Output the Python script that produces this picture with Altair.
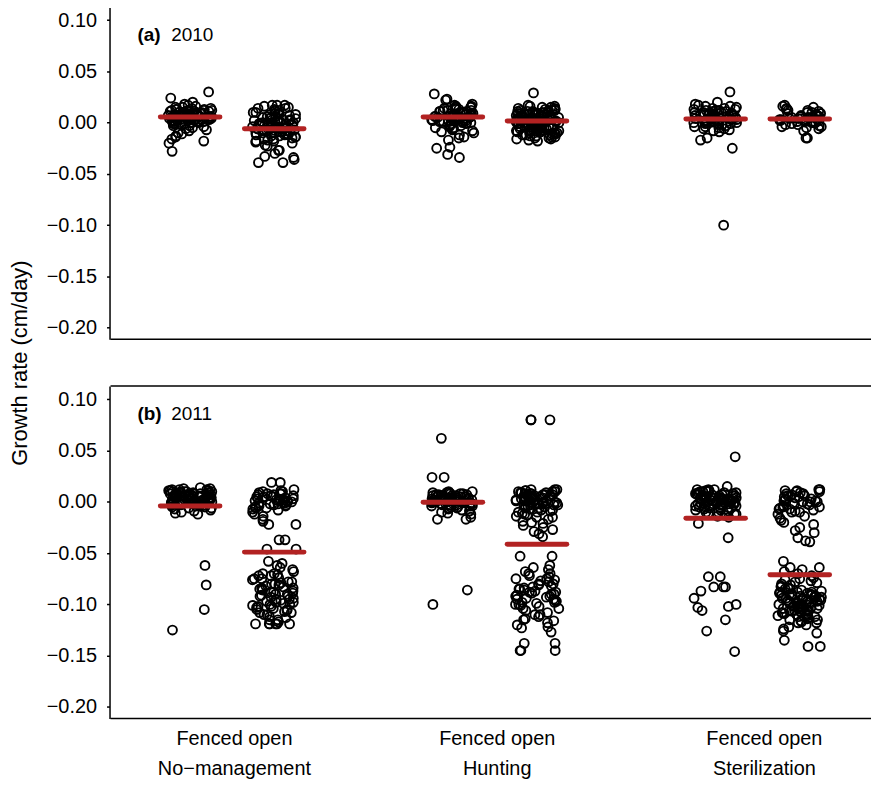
import altair as alt
import pandas as pd

# ---------------- data (growth rate, thousandths of cm/day) ----------------
years = ["2010", "2011"]
panel_tags = ["(a)", "(b)"]
managements = ["No−management", "Hunting", "Sterilization"]
treat_label = "Fenced open"
group_pos = [1.0, 1.96, 4.0, 4.96, 7.0, 7.96]   # Fenced/open for each management
label_pos = [1.5, 4.5, 7.55]

pts_2010 = [
    # No-management fenced
    [30, 24, 20, 18, 17, 16, 15, 15, 14, 14, 13, 13, 12, 12, 12, 11, 11, 10, 10, 10, 9, 9, 9, 8, 8, 8,
     7, 7, 7, 6, 6, 6, 5, 5, 5, 4, 4, 4, 3, 3, 3, 2, 2, 1, 1, 0, 0, -1, -1, -2, -3, -4, -5, -6, -7, -8,
     -10, -11, -13, -14, -16, -18, -20, -28,
     12, 11, 10, 9, 8, 7, 6, 5, 4, 3, 2, 1, 0, 13, 11, 9, 7, 5, 3, 1, -1, -3, 10, 8, 6, 4, 2, 0],
    # No-management open
    [17, 17, 17, 16, 15, 14, 13, 12, 11, 10, 9, 8, 8, 7, 6, 5, 5, 4, 3, 3, 2, 2, 1, 0, 0, -1, -1, -2, -3,
     -3, -4, -4, -5, -5, -6, -6, -7, -7, -8, -8, -9, -9, -10, -10, -11, -12, -12, -13, -14, -15, -16,
     -17, -18, -19, -20, -22, -23, -27, -27, -30, -33, -34, -36, -39, -39,
     10, 8, 6, 4, 2, 0, -2, -4, -6, -8, -10, -12, -14, -16, -18, -5, -7, -9, -11, -13, 12, 14, 3, 1, -1, -3],
    # Hunting fenced
    [28, 23, 22, 18, 17, 16, 15, 14, 13, 12, 12, 11, 11, 10, 10, 9, 9, 8, 8, 7, 7, 6, 6, 6, 5, 5, 5, 4, 4,
     3, 3, 2, 2, 1, 1, 0, 0, -1, -2, -3, -4, -5, -6, -7, -8, -9, -10, -12, -14, -15, -17, -24, -25, -31, -34,
     15, 13, 11, 9, 7, 5, 3, 1, -1, -3, -5, 12, 10, 8, 6, 4, 2, 0, 14, 16],
    # Hunting open
    [29, 17, 16, 15, 14, 13, 12, 12, 11, 11, 10, 10, 9, 9, 8, 8, 8, 7, 7, 7, 6, 6, 6, 5, 5, 5, 4, 4, 4, 3,
     3, 3, 2, 2, 2, 1, 1, 1, 0, 0, 0, -1, -1, -1, -2, -2, -2, -3, -3, -3, -4, -4, -5, -5, -6, -6, -7, -7,
     -8, -8, -9, -10, -10, -11, -12, -13, -14, -15, -16, -16, -17, -18,
     15, 13, 11, 9, 7, 5, 3, 1, -1, -3, -5, -7, -9, -11, -13, -15, 14, 12, 10, 8, 6, 4, 2, 0, -2, -4, -6,
     -8, -10, -12, -14, 16, 12, 8, 4, 0, -4, -8, -12],
    # Sterilization fenced
    [30, 20, 18, 17, 16, 15, 14, 13, 12, 12, 11, 10, 10, 9, 9, 8, 8, 7, 7, 6, 6, 5, 5, 4, 4, 3, 3, 2, 2,
     1, 1, 0, 0, -1, -2, -3, -4, -5, -6, -7, -8, -9, -15, -17, -25, -100,
     14, 12, 10, 8, 6, 4, 2, 0, -2, -4, -6, 16, 13, 11, 9, 7, 5, 3, 1, -1],
    # Sterilization open
    [17, 16, 15, 14, 13, 12, 11, 10, 9, 8, 7, 6, 6, 5, 5, 4, 4, 3, 3, 2, 2, 1, 1, 0, 0, -1, -2, -3, -4,
     -5, -6, -8, -15, -15, 12, 10, 8, 6, 4, 2, 0, -2, -4, 9, 7, 5, 3, 1],
]
pts_2011 = [
    # No-management fenced
    [14, 13, 12, 12, 11, 11, 10, 10, 10, 9, 9, 9, 8, 8, 8, 7, 7, 7, 6, 6, 6, 5, 5, 5, 4, 4, 4, 3, 3, 3,
     2, 2, 2, 1, 1, 1, 0, 0, 0, -1, -1, -1, -2, -2, -3, -3, -4, -4, -5, -5, -6, -7, -8, -9, -10, -11,
     -12, -62, -81, -105, -125,
     12, 10, 8, 6, 4, 2, 0, -2, -4, -6, 11, 9, 7, 5, 3, 1, -1, -3, 13, 8, 3, -2, 10, 6, 2],
    # No-management open
    [19, 19, 12, 11, 10, 9, 8, 8, 7, 6, 5, 5, 4, 3, 2, 2, 1, 0, 0, -1, -2, -3, -4, -5, -6, -7, -8, -10,
     -12, -14, -17, -19, -22, -22, -37, -37, -46, -46,
     10, 6, 2, -2, -6, 8, 4, 0, -4, 5, 1, -3, 3, -1, 7,
     -58, -60, -62, -64, -66, -68, -70, -71, -72, -74, -75, -76, -78, -79, -80, -81, -82, -83, -84, -85,
     -86, -87, -88, -89, -90, -91, -92, -93, -94, -95, -96, -97, -98, -99, -100, -101, -102, -103, -104,
     -105, -106, -107, -108, -110, -112, -113, -115, -117, -119, -119, -119, -119, -119, -119,
     -70, -75, -80, -85, -90, -95, -100, -105, -110, -115, -72, -78, -84, -88, -92, -98, -102, -108],
    # Hunting fenced
    [62, 24, 24, 10, 9, 9, 8, 8, 7, 7, 6, 6, 6, 5, 5, 5, 4, 4, 4, 3, 3, 3, 2, 2, 2, 1, 1, 1, 0, 0, 0, -1,
     -1, -1, -2, -2, -3, -3, -4, -4, -5, -6, -7, -8, -9, -10, -11, -12, -15, -17, -17, -86, -100,
     8, 6, 4, 2, 0, -2, -4, -6, 9, 7, 5, 3, 1, -1, -3, 10, 6, 2, -2, -5],
    # Hunting open
    [80, 80, 80, 12, 12, 11, 10, 10, 9, 9, 8, 8, 7, 7, 6, 6, 5, 5, 4, 4, 3, 3, 2, 2, 1, 1, 0, 0, -1, -1,
     -2, -2, -3, -3, -4, -5, -6, -7, -8, -9, -10, -11, -12, -13, -14, -15, -17, -19, -21, -23, -25, -27,
     -29, -31, -34,
     10, 8, 6, 4, 2, 0, -2, -4, -6, -8, 11, 7, 3, -1, -5, 9, 5, 1, -3, 12, -10, -15, -20,
     -53, -53, -62, -64, -66, -68, -70, -72, -73, -75, -76, -77, -78, -80, -81, -82, -83, -84, -85, -86,
     -87, -88, -89, -90, -91, -92, -93, -94, -95, -96, -97, -98, -99, -100, -101, -102, -104, -106, -108,
     -110, -112, -114, -116, -118, -120, -122, -123, -127, -138, -138, -145, -145, -145,
     -85, -90, -95, -100, -80, -88, -92, -98, -104, -110, -75, -70, -115],
    # Sterilization fenced
    [44, 15, 12, 12, 11, 10, 10, 9, 9, 8, 8, 7, 7, 6, 6, 5, 5, 5, 4, 4, 4, 3, 3, 3, 2, 2, 2, 1, 1, 1, 0,
     0, 0, -1, -1, -1, -2, -2, -3, -3, -4, -4, -5, -5, -6, -7, -8, -9, -10, -11, -12, -13, -14, -15, -21,
     -35, -73, -73, -83, -83, -83, -87, -94, -100, -102, -103, -106, -115, -126, -146,
     10, 8, 6, 4, 2, 0, -2, -4, -6, -8, -10, 9, 7, 5, 3, 1, -1, -3, -5, 12, 11, 0, -12],
    # Sterilization open
    [12, 12, 11, 10, 9, 8, 7, 6, 5, 4, 3, 2, 1, 0, 0, -1, -2, -3, -4, -5, -6, -7, -8, -9, -10, -12, -14,
     -16, -18, -20, -22, -25, -28, -30, -35, -38, -39,
     10, 5, 0, -5, -10, 8, 3, -2, -7, 11, 6, 1,
     -58, -64, -64, -66, -68, -70, -72, -74, -75, -76, -77, -78, -79, -80, -81, -82, -83, -84, -85, -86,
     -87, -88, -88, -89, -90, -90, -91, -92, -92, -93, -94, -94, -95, -96, -96, -97, -98, -98, -99, -100,
     -100, -101, -102, -102, -103, -104, -104, -105, -106, -106, -107, -108, -108, -109, -110, -111, -112,
     -113, -114, -115, -116, -117, -118, -120, -122, -124, -126, -128, -135, -141, -141,
     -90, -92, -94, -96, -98, -100, -102, -104, -106, -108, -110, -95, -97, -99, -101, -103, -105, -85,
     -88, -112, -115, -118, -93, -107, -91, -89, -109, -111],
]
means_2010 = [0.0055, -0.006, 0.0055, 0.0017, 0.0035, 0.0035]
means_2011 = [-0.004, -0.049, -0.0003, -0.0414, -0.016, -0.071]

# ---------------- build table ----------------
rows = []
for yr, tag, pts, means in [(years[0], panel_tags[0], pts_2010, means_2010),
                            (years[1], panel_tags[1], pts_2011, means_2011)]:
    for g, (vals, m) in enumerate(zip(pts, means)):
        for i, v in enumerate(vals):
            rows.append(dict(year=yr, kind="pt", grp=g, idx=i, pos=group_pos[g], y=v / 1000.0))
        rows.append(dict(year=yr, kind="mean", grp=g, idx=0, pos=group_pos[g], y=m))
    rows.append(dict(year=yr, kind="tag", grp=-1, idx=0, pos=0.0, y=0.0, txt=tag))
    rows.append(dict(year=yr, kind="yr", grp=-1, idx=0, pos=0.0, y=0.0, txt=yr))
df = pd.DataFrame(rows)
df["txt"] = df["txt"].fillna("")

W, H = 764, 334
XDOM = [0.091, 8.773]
YDOM = [-0.2113, 0.113]
FONT = "Liberation Sans, Arial, Helvetica, sans-serif"

lab_expr = (
    f"datum.value < 3 ? ['{treat_label}', '{managements[0]}'] : "
    f"datum.value < 6 ? ['{treat_label}', '{managements[1]}'] : "
    f"['{treat_label}', '{managements[2]}']"
)

xscale = alt.Scale(domain=XDOM, nice=False, zero=False)
yscale = alt.Scale(domain=YDOM, nice=False, zero=False)

xaxis = alt.Axis(values=label_pos, labelExpr=lab_expr, title=None, domain=False, ticks=False,
                 grid=False, labelFont=FONT, labelFontSize=20, labelLineHeight=30,
                 labelPadding=9, labelColor="black", labelAngle=0)
yaxis = alt.Axis(values=[-0.2, -0.15, -0.1, -0.05, 0.0, 0.05, 0.1], format=".2f", title=None,
                 domain=True, domainColor="black", domainWidth=1.5, ticks=True, tickSize=3,
                 tickColor="black", tickWidth=1.5, grid=False, labelFont=FONT, labelFontSize=20,
                 labelPadding=10, labelColor="black")

points = alt.Chart().transform_filter(alt.datum.kind == "pt").transform_window(
    rn="row_number()", groupby=["year", "grp"]
).transform_calculate(
    s="sin(datum.rn * 12.9898 + datum.grp * 78.233 + (datum.year == '2011' ? 37.719 : 0)) * 43758.5453"
).transform_calculate(
    xj="datum.pos + (datum.s - floor(datum.s) - 0.5) * 0.5"
).mark_point(shape="circle", filled=False, color="black", size=80, strokeWidth=1.9, opacity=1).encode(
    x=alt.X("xj:Q", scale=xscale, axis=xaxis),
    y=alt.Y("y:Q", scale=yscale, axis=yaxis),
)

means = alt.Chart().transform_filter(alt.datum.kind == "mean").transform_calculate(
    x1="datum.pos - 0.34", x2="datum.pos + 0.34"
).mark_rule(color="#B22222", strokeWidth=5, strokeCap="round").encode(
    x=alt.X("x1:Q", scale=xscale),
    x2="x2:Q",
    y=alt.Y("y:Q", scale=yscale),
)

# frame: top and bottom lines (left line is the y axis domain)
frame_top = alt.Chart().transform_filter(alt.datum.kind == "tag").mark_rule(
    color="black", strokeWidth=1.5
).encode(x=alt.value(0), x2=alt.value(W), y=alt.value(0))
frame_bot = alt.Chart().transform_filter(alt.datum.kind == "tag").mark_rule(
    color="black", strokeWidth=1.5
).encode(x=alt.value(0), x2=alt.value(W), y=alt.value(H))

tags = alt.Chart().transform_filter(alt.datum.kind == "tag").mark_text(
    align="left", baseline="middle", font=FONT, fontSize=19, fontWeight="bold", color="black"
).encode(x=alt.value(27), y=alt.value(28), text="txt:N")

yrs = alt.Chart().transform_filter(alt.datum.kind == "yr").mark_text(
    align="left", baseline="middle", font=FONT, fontSize=19, color="black"
).encode(x=alt.value(61), y=alt.value(28), text="txt:N")

layered = alt.layer(frame_top, frame_bot, points, means, tags, yrs).properties(width=W, height=H)

chart = layered.facet(
    row=alt.Row("year:N", title="Growth rate (cm/day)",
                header=alt.Header(labels=False, titleFont=FONT, titleFontSize=22,
                                  titleFontWeight="normal", titleColor="black", titlePadding=4)),
    data=df,
    spacing=45,
).properties(
    padding={"left": 0, "top": -4, "right": 0, "bottom": 0}
).configure_view(
    stroke=None
).configure_facet(spacing=45)

chart.save("out.html", embed_options={"renderer": "svg", "actions": False})
